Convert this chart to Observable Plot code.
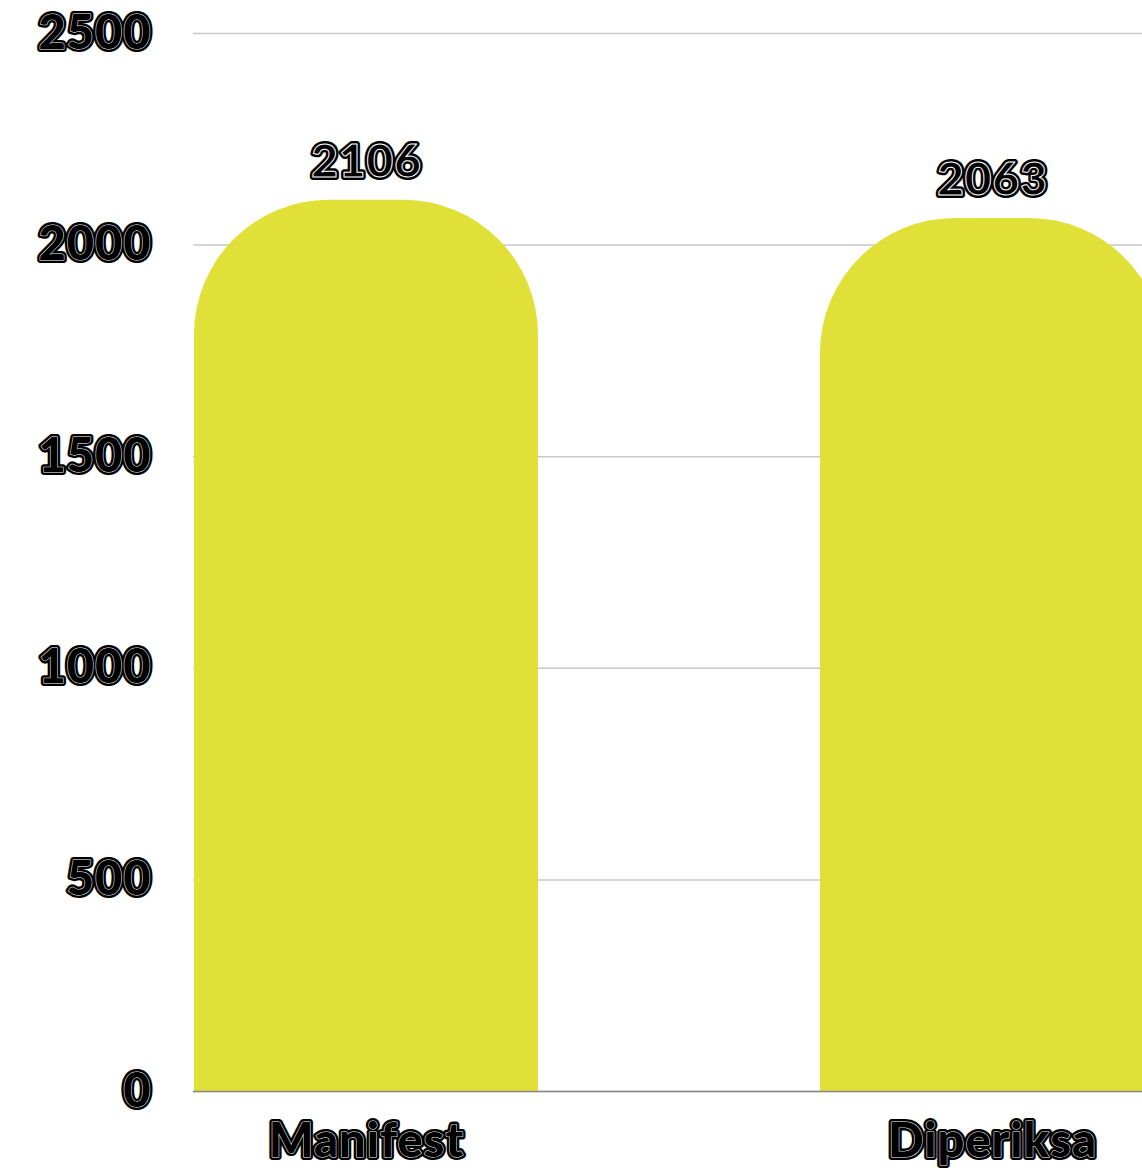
<!DOCTYPE html>
<html>
<head>
<meta charset="utf-8">
<script src="https://cdn.jsdelivr.net/npm/d3@7"></script>
<script src="https://cdn.jsdelivr.net/npm/@observablehq/plot@0.6"></script>
<style>
  html, body { margin: 0; padding: 0; background: #fff; overflow: hidden; }
  #chart svg { display: block; max-width: none !important; }
  #chart svg text { letter-spacing: 1px; }
</style>
</head>
<body>
<div id="chart"></div>
<script>
const categories = ["Manifest", "Diperiksa"];
const values = [2106, 2063];
const yTicks = [0, 500, 1000, 1500, 2000, 2500];

const data = categories.map((c, i) => ({category: c, value: values[i]}));

const barColor = "#e1e038";
const radius = 135;
const font = "Lato, 'Open Sans', sans-serif";

function roundedTop(index, scales, vals, dims, ctx, next) {
  const g = d3.create("svg:g");
  const bw = scales.x.bandwidth();
  for (const i of index) {
    const x0 = vals.x[i];
    const x1 = x0 + bw;
    const top = Math.min(vals.y1[i], vals.y2[i]);
    const bot = Math.max(vals.y1[i], vals.y2[i]);
    const r = Math.min(radius, bw / 2, bot - top);
    const p = d3.path();
    p.moveTo(x0, bot);
    p.lineTo(x0, top + r);
    p.arcTo(x0, top, x0 + r, top, r);
    p.lineTo(x1 - r, top);
    p.arcTo(x1, top, x1, top + r, r);
    p.lineTo(x1, bot);
    p.closePath();
    g.append("path").attr("d", p.toString()).attr("fill", barColor);
  }
  return g.node();
}

// two-layer outlined text: heavy black halo, then thin white edge line
const axisLayers = (mk, opts) => [
  mk({...opts, fill: "black", textStroke: "black", textStrokeWidth: 6}),
  mk({...opts, fill: "black", textStroke: "white", textStrokeWidth: 1})
];
const textLayers = (mk, opts) => [
  mk({...opts, fill: "black", stroke: "black", strokeWidth: 6, paintOrder: "stroke"}),
  mk({...opts, fill: "black", stroke: "white", strokeWidth: 1, paintOrder: "normal"})
];

const chart = Plot.plot({
  width: 1164,
  height: 1168,
  marginLeft: 193,
  marginRight: 0,
  marginTop: 33,
  marginBottom: 77,
  style: {fontFamily: font, background: "#fff"},
  x: {domain: categories, paddingInner: 0.451, paddingOuter: 0, label: null},
  y: {domain: [0, 2500], ticks: yTicks, label: null},
  marks: [
    Plot.ruleY(yTicks, {stroke: "#c8c8c8", strokeWidth: 1.5}),
    Plot.barY(data, {x: "category", y: "value", render: roundedTop}),
    Plot.ruleY([0], {stroke: "#888", strokeWidth: 1.5}),
    ...axisLayers((o) => Plot.axisY(o), {ticks: yTicks, tickFormat: (d) => String(d), tickSize: 0, tickPadding: 42, fontSize: 47, fontWeight: 900, label: null, textAnchor: "end"}),
    ...axisLayers((o) => Plot.axisX(o), {tickSize: 0, tickPadding: 32, fontSize: 47, fontWeight: 900, label: null}),
    ...textLayers((o) => Plot.text(data, o), {x: "category", y: "value", text: (d) => String(d.value), dy: -38, fontSize: 46, fontWeight: 900})
  ]
});

document.getElementById("chart").appendChild(chart);
</script>
</body>
</html>
